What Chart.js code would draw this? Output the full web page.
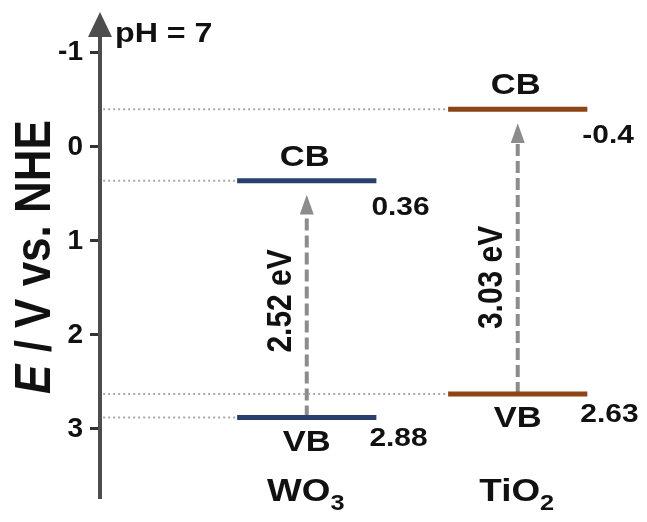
<!DOCTYPE html>
<html>
<head>
<meta charset="utf-8">
<script src="https://cdn.jsdelivr.net/npm/chart.js@4"></script>
<style>
  body { margin: 0; background: #fff; }
  #wrap { width: 647px; height: 522px; }
</style>
</head>
<body>
<div id="wrap"><canvas id="bandChart"></canvas></div>
<script>
// band edges (V vs. NHE)
const MATERIALS = ['WO3', 'TiO2'];
const CB_EDGE = [0.36, -0.4];
const VB_EDGE = [2.88, 2.63];
const Y_TICKS = [-1, 0, 1, 2, 3];
const PH_NOTE = 'pH = 7';

// layout / style
const COLORS = ['#283e6c', '#8b4516'];
const X_POS = [0.98, 1.98];
const HALF = 0.33;
const SX = 1.15;           // text in the figure is a bit wide
const FONT = '"Liberation Sans", Arial, sans-serif';
const TIP_GAP = 0.15;      // arrow tip below CB line
const HEAD = 0.21;

function drawText(ctx, s, x, y, size, opts = {}) {
    ctx.save();
    ctx.translate(x, y);
    ctx.scale(SX, 1);
    if (opts.rotate) ctx.rotate(-Math.PI / 2);
    ctx.font = (opts.italic ? 'italic ' : '') + 'bold ' + size + 'px ' + FONT;
    ctx.textAlign = opts.align || 'left';
    ctx.textBaseline = 'alphabetic';
    ctx.fillStyle = '#111';
    ctx.fillText(s, 0, 0);
    ctx.restore();
}

function drawName(ctx, name, cx, y) {
    const m = name.match(/^(.*?)(\d*)$/);
    ctx.save();
    ctx.font = 'bold 32px ' + FONT;
    const w1 = ctx.measureText(m[1]).width;
    ctx.font = 'bold 22px ' + FONT;
    const w2 = ctx.measureText(m[2]).width;
    ctx.restore();
    const x0 = cx - (w1 + w2) * SX / 2;
    drawText(ctx, m[1], x0, y, 32);
    drawText(ctx, m[2], x0 + w1 * SX, y + 9, 22);
}

const datasets = [];

// dotted guide lines from the axis to each level
MATERIALS.forEach((m, i) => {
    [CB_EDGE[i], VB_EDGE[i]].forEach(v => {
        datasets.push({
            data: [{ x: 0.015, y: v }, { x: X_POS[i] - HALF, y: v }],
            borderColor: '#a8a8a8', borderWidth: 2, borderDash: [2, 3]
        });
    });
});

// band edges
MATERIALS.forEach((m, i) => {
    [CB_EDGE[i], VB_EDGE[i]].forEach(v => {
        datasets.push({
            data: [{ x: X_POS[i] - HALF, y: v }, { x: X_POS[i] + HALF, y: v }],
            borderColor: COLORS[i], borderWidth: 5
        });
    });
});

// excitation arrows (shaft)
MATERIALS.forEach((m, i) => {
    datasets.push({
        data: [{ x: X_POS[i], y: VB_EDGE[i] }, { x: X_POS[i], y: CB_EDGE[i] + TIP_GAP + HEAD }],
        borderColor: '#8c8c8c', borderWidth: 4, borderDash: [12, 5]
    });
});

const annotate = {
    id: 'annotate',
    afterDraw(chart) {
        const ctx = chart.ctx;
        const xs = chart.scales.x, ys = chart.scales.y;
        const left = chart.chartArea.left;

        // axis arrow head
        ctx.save();
        ctx.fillStyle = '#4d4d4d';
        ctx.beginPath();
        ctx.moveTo(left, 12);
        ctx.lineTo(left - 12, 37);
        ctx.lineTo(left + 12, 37);
        ctx.closePath();
        ctx.fill();
        ctx.restore();

        drawText(ctx, PH_NOTE, 115, 42, 28);

        // y title with italic E
        ctx.save();
        ctx.translate(50, 257);
        ctx.scale(SX, 1);
        ctx.rotate(-Math.PI / 2);
        ctx.font = 'italic bold 44px ' + FONT;
        const wE = ctx.measureText('E').width;
        ctx.font = 'bold 44px ' + FONT;
        const rest = ' / V vs. NHE';
        const wR = ctx.measureText(rest).width;
        const x0 = -(wE + wR) / 2;
        ctx.fillStyle = '#111';
        ctx.fillText(rest, x0 + wE, 0);
        ctx.font = 'italic bold 44px ' + FONT;
        ctx.fillText('E', x0, 0);
        ctx.restore();

        MATERIALS.forEach((m, i) => {
            const cx = xs.getPixelForValue(X_POS[i]);
            const rx = xs.getPixelForValue(X_POS[i] + HALF);
            const cbY = ys.getPixelForValue(CB_EDGE[i]);
            const vbY = ys.getPixelForValue(VB_EDGE[i]);

            drawText(ctx, 'CB', cx - 2, cbY - 15, 30, { align: 'center' });
            drawText(ctx, 'VB', cx, vbY + 33, 30, { align: 'center' });
            drawText(ctx, String(CB_EDGE[i]), rx - 5, cbY + 34, 26);
            drawText(ctx, String(VB_EDGE[i]), rx - 7, vbY + 28, 26);
            drawName(ctx, m, cx - 1, 501);

            // arrow head
            const tip = ys.getPixelForValue(CB_EDGE[i] + TIP_GAP);
            const base = ys.getPixelForValue(CB_EDGE[i] + TIP_GAP + HEAD);
            ctx.save();
            ctx.fillStyle = '#8c8c8c';
            ctx.beginPath();
            ctx.moveTo(cx, tip);
            ctx.lineTo(cx - 7, base);
            ctx.lineTo(cx + 7, base);
            ctx.closePath();
            ctx.fill();
            ctx.restore();

            const gap = (VB_EDGE[i] - CB_EDGE[i]).toFixed(2) + ' eV';
            drawText(ctx, gap, cx - 16, vbY - 65, 30, { rotate: true });
        });
    }
};

new Chart(document.getElementById('bandChart'), {
    type: 'scatter',
    data: { datasets: datasets.map(d => Object.assign({
        showLine: true, pointRadius: 0, borderCapStyle: 'butt', fill: false
    }, d)) },
    options: {
        responsive: true,
        maintainAspectRatio: false,
        animation: false,
        layout: { padding: { top: 30, bottom: 19, right: 9, left: 0 } },
        plugins: { legend: { display: false }, tooltip: { enabled: false } },
        scales: {
            x: { type: 'linear', min: 0, max: 2.55, display: false },
            y: {
                type: 'linear', min: -1.242, max: 3.737, reverse: true,
                afterBuildTicks: s => { s.ticks = Y_TICKS.map(v => ({ value: v })); },
                afterFit: s => { s.width = 100; },
                border: { display: true, width: 4, color: '#4d4d4d' },
                grid: { drawOnChartArea: false, drawTicks: true, tickLength: 10, tickWidth: 3, tickColor: '#333' },
                ticks: { padding: 7, color: '#111', font: { family: FONT, size: 28, weight: 'bold' } }
            }
        }
    },
    plugins: [annotate]
});
</script>
</body>
</html>
